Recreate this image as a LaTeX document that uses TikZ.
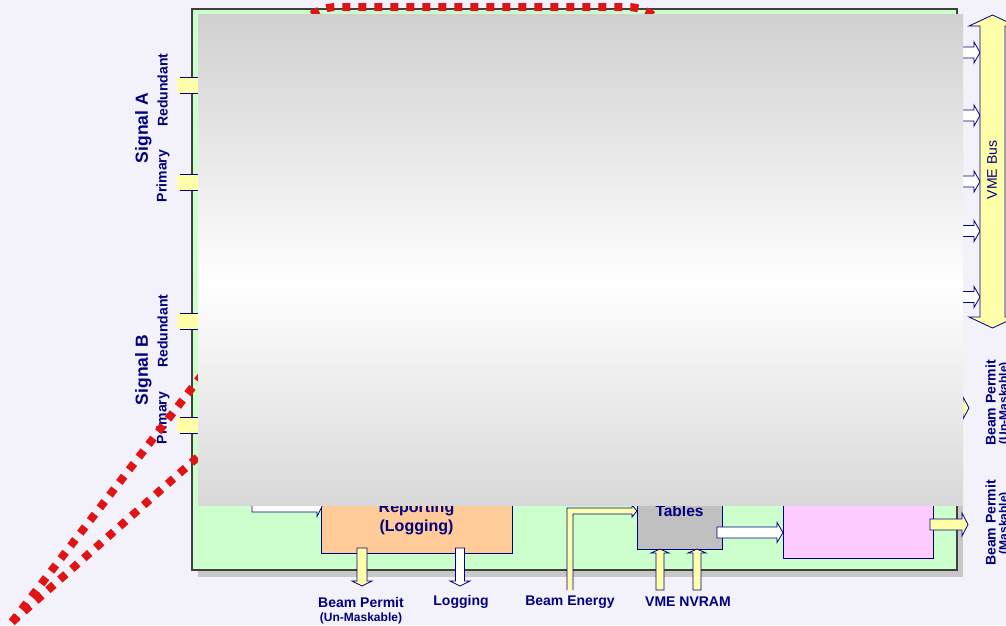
\documentclass[tikz,border=0pt]{standalone}
\usepackage{fontspec}
\setmainfont{Liberation Sans}
\usepackage{xcolor}
\usepackage{tikz}
\usetikzlibrary{positioning}

\definecolor{navy}{RGB}{0,0,128}
\definecolor{lila}{RGB}{243,241,249}
\definecolor{verde}{RGB}{204,255,204}
\definecolor{amar}{RGB}{255,255,170}
\definecolor{naranja}{RGB}{255,204,153}
\definecolor{rosa}{RGB}{255,204,255}
\definecolor{gris}{RGB}{192,192,192}
\definecolor{sombra}{RGB}{200,200,200}
\definecolor{rojo}{RGB}{224,20,20}
\definecolor{velo}{RGB}{208,208,208}
\definecolor{velob}{RGB}{216,216,216}

\newcommand{\rblk}[7]{\filldraw[fill=#1, draw=navy, line width=0.8pt]
  (#2,{#4-#5}) -- ({#3-#7},{#4-#5}) -- ({#3-#7},{#4-#6}) -- (#3,#4)
  -- ({#3-#7},{#4+#6}) -- ({#3-#7},{#4+#5}) -- (#2,{#4+#5}) -- cycle;}
\newcommand{\vblk}[7]{\filldraw[fill=#1, draw=navy, line width=0.8pt]
  ({#2-#5},#3) -- ({#2-#5},{#4-(#7)}) -- ({#2-#6},{#4-(#7)}) -- (#2,#4)
  -- ({#2+#6},{#4-(#7)}) -- ({#2+#5},{#4-(#7)}) -- ({#2+#5},#3) -- cycle;}

\begin{document}
\begin{tikzpicture}[x=1pt, y=-1pt,
    lab/.style={text=navy, inner sep=0pt, font=\bfseries\fontsize{14}{16}\selectfont},
    sublab/.style={text=navy, inner sep=0pt, font=\bfseries\fontsize{12}{14}\selectfont},
    sig/.style={text=navy, inner sep=0pt, rotate=90, font=\bfseries\fontsize{17.5}{20}\selectfont},
    unit/.style={draw=navy, line width=0.8pt, inner sep=0pt},
    unittxt/.style={text=navy, inner sep=0pt, align=center, font=\bfseries\fontsize{16}{19}\selectfont},
    traza/.style={draw=rojo, line width=8pt, dash pattern=on 8pt off 8pt}
  ]
    \useasboundingbox (0,0) rectangle (1006,625);
    \fill[lila] (0,0) rectangle (1006,625);
    \fill[sombra] (198,16) rectangle (963,577);
    \node[draw=black!75, line width=1.5pt, fill=verde, minimum width=765pt, minimum height=561pt, inner sep=0pt] (panel) at (574.5,289.5) {};

    \node[sig] (siga) at (143.5,128) {Signal A};
    \node[lab, rotate=90] (reda) at (162.5,90) {Redundant};
    \node[lab, rotate=90] (pria) at (163,176) {Primary};
    \node[sig] (sigb) at (143.5,370) {Signal B};
    \node[lab, rotate=90] (redb) at (162.5,331) {Redundant};
    \node[lab, rotate=90] (prib) at (163,418) {Primary};

    \foreach \y in {85,182,321,425} {
      \fill[amar] (177,\y-8) rectangle (199,\y+8);
      \draw[navy, line width=0.8pt] (180,\y-8) -- (199,\y-8) (180,\y+8) -- (199,\y+8);
    }

    \draw[traza, rounded corners=45pt] (292,200) -- (292,7) -- (672,7) -- (672,200);
    \draw[traza] (12,622) -- (235,332);
    \draw[traza] (12,622) -- (235,424);

    \node[unit, fill=naranja, minimum width=191pt, minimum height=113pt] (rep) at (416.5,496.5) {};
    \node[unittxt] (reptxt) at (416.5,517.5) {Reporting\\(Logging)};
    \node[unit, fill=gris, minimum width=85pt, minimum height=109pt] (tab) at (679.5,494.5) {};
    \node[unittxt, font=\bfseries\fontsize{15.5}{18}\selectfont] (tabtxt) at (679.5,511) {Tables};
    \node[unit, fill=rosa, minimum width=150pt, minimum height=118pt] (perm) at (858,499) {};

    \rblk{white}{252}{322}{506.5}{5.5}{10}{5}
    \rblk{white}{717}{783}{532.5}{5.5}{10}{6}
    \rblk{amar}{930}{968}{524.5}{5.5}{11.5}{6}
    \rblk{amar}{900}{969}{408}{6}{11}{6}
    \vblk{amar}{362}{548}{586}{5}{10}{5}
    \vblk{white}{460}{548}{586}{4.5}{10}{5}
    \vblk{amar}{660}{590}{549}{4}{9}{-4}
    \vblk{amar}{697}{590}{549}{4}{9}{-4}
    \filldraw[fill=amar, draw=navy, line width=0.8pt] (573,590) -- (573,514) -- (632,514) -- (632,517)
      -- (637,511) -- (632,505) -- (632,508) -- (567,508) -- (567,590);
    \foreach \y in {52.5,115.5,181.5,231,297} {
      \rblk{white}{940}{980}{\y}{5.5}{10.5}{6}
    }

    \shade[top color=velo, bottom color=white] (198,14) rectangle (963,285);
    \shade[top color=white, bottom color=velob] (198,285) rectangle (963,505);

    \filldraw[fill=amar, draw=navy, line width=0.8pt] (992.5,15) -- (1016,26) -- (1005,26) -- (1005,317)
      -- (1016,317) -- (992.5,328) -- (969,317) -- (980,317) -- (980,26) -- (969,26) -- cycle;
    \node[text=navy, inner sep=0pt, rotate=90, font=\fontsize{14}{16}\selectfont] (bus) at (992,170) {VME Bus};

    \node[lab, rotate=90] (bpr1) at (990.5,403) {Beam Permit};
    \node[sublab, rotate=90] (bpr2) at (1004.5,403) {(Un-Maskable)};
    \node[lab, rotate=90] (bpm1) at (990.5,523) {Beam Permit};
    \node[sublab, rotate=90] (bpm2) at (1004.5,523) {(Maskable)};

    \node[lab] (bpu1) at (361,602) {Beam Permit};
    \node[sublab, below=5pt of bpu1] (bpu2) {(Un-Maskable)};
    \node[lab] (logg) at (461,602) {Logging};
    \node[lab] (benr) at (570,602) {Beam Energy};
    \node[lab] (nvram) at (688,602) {VME NVRAM};
  \end{tikzpicture}
\end{document}
